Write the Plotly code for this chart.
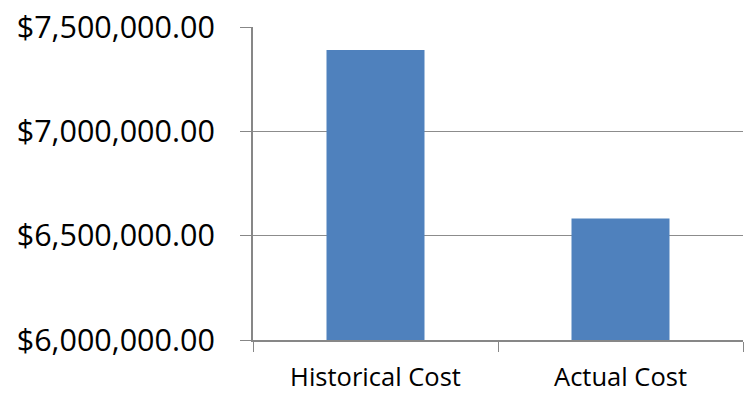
import plotly.graph_objects as go

categories = ["Historical Cost", "Actual Cost"]
values = [7390000, 6582000]
y_ticks = [6000000, 6500000, 7000000, 7500000]

fig = go.Figure(go.Bar(x=categories, y=values, marker=dict(color="#4f81bd", line=dict(width=0))))

fig.update_layout(
    width=750, height=393,
    margin=dict(l=253, r=7, t=27, b=53),
    paper_bgcolor="white", plot_bgcolor="white",
    bargap=0.6,
    showlegend=False,
    font=dict(family="Open Sans, sans-serif", color="black"),
)
fig.update_yaxes(
    range=[6000000, 7500000], tickvals=y_ticks, tickformat="$,.2f",
    tickfont=dict(size=30.5), showgrid=True, gridcolor="#8c8c8c", gridwidth=1,
    showline=True, linecolor="#878787", linewidth=2,
    ticks="outside", ticklen=11, tickcolor="#878787", tickwidth=1,
    ticklabelstandoff=19, zeroline=False, automargin=False,
)
fig.update_xaxes(
    showline=True, linecolor="#878787", linewidth=2,
    ticks="outside", tickson="boundaries", ticklen=10, tickcolor="#878787", tickwidth=1,
    tickfont=dict(size=25.5), showgrid=False, ticklabelstandoff=13, automargin=False,
)
fig.write_html("out.html")
